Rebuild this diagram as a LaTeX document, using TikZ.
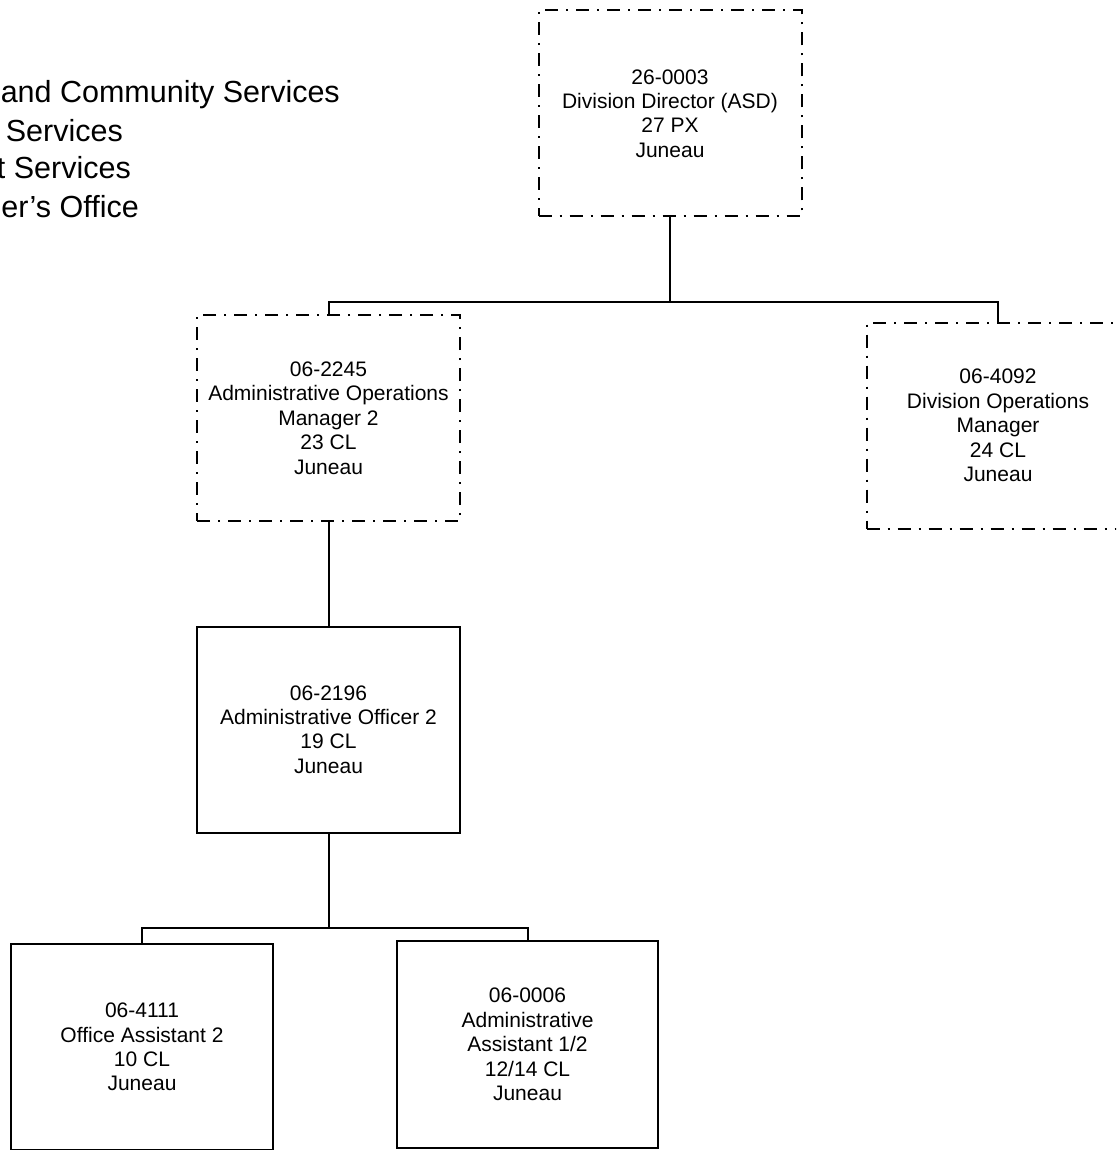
\documentclass[tikz,border=0pt]{standalone}
\usepackage{fontspec}
\setmainfont{Liberation Sans}
\begin{document}
\begin{tikzpicture}[x=1pt,y=-1pt,
  posbox/.style={draw, line width=2pt, rectangle, inner sep=0pt, align=center,
    font=\fontsize{21}{24.4}\selectfont, minimum width=263pt, minimum height=206pt},
  vacant/.style={posbox, dash pattern=on 13pt off 8pt on 2pt off 8pt},
  link/.style={line width=2pt},
  hdr/.style={font=\fontsize{30.5}{38}\selectfont, anchor=base east, inner sep=0pt}]
\useasboundingbox (0,0) rectangle (1116,1150);
\clip (0,0) rectangle (1116,1150);
% header (clipped at left edge)
\node[hdr] (h1) at (340,103) {and Community Services};
\node[hdr] (h2) at (123,142) {Services};
\node[hdr] (h3) at (131,179) {t Services};
\node[hdr] (h4) at (139,218) {er’s Office};
% positions
\node[vacant] (dir) at (670,113.5) {26-0003\\Division Director (ASD)\\27 PX\\Juneau};
\node[vacant] (aom) at (328.5,418) {06-2245\\Administrative Operations\\Manager 2\\23 CL\\Juneau};
\node[vacant] (dom) at (998,425.5) {06-4092\\Division Operations\\Manager\\24 CL\\Juneau};
\node[posbox] (ao) at (328.5,729.5) {06-2196\\Administrative Officer 2\\19 CL\\Juneau};
\node[posbox, minimum width=262pt] (oa) at (142,1047) {06-4111\\Office Assistant 2\\10 CL\\Juneau};
\node[posbox, minimum width=261pt, minimum height=207pt] (aa) at (527.5,1044.5) {06-0006\\Administrative\\Assistant 1/2\\12/14 CL\\Juneau};
% connectors
\coordinate (b1) at (670,302);
\draw[link] (dir.south) -- (b1);
\draw[link] (aom.north) |- (b1) -| (dom.north);
\draw[link] (aom.south) -- (ao.north);
\coordinate (b2) at (328.5,928);
\draw[link] (ao.south) -- (b2);
\draw[link] (oa.north) |- (b2) -| (aa.north);
\end{tikzpicture}
\end{document}
